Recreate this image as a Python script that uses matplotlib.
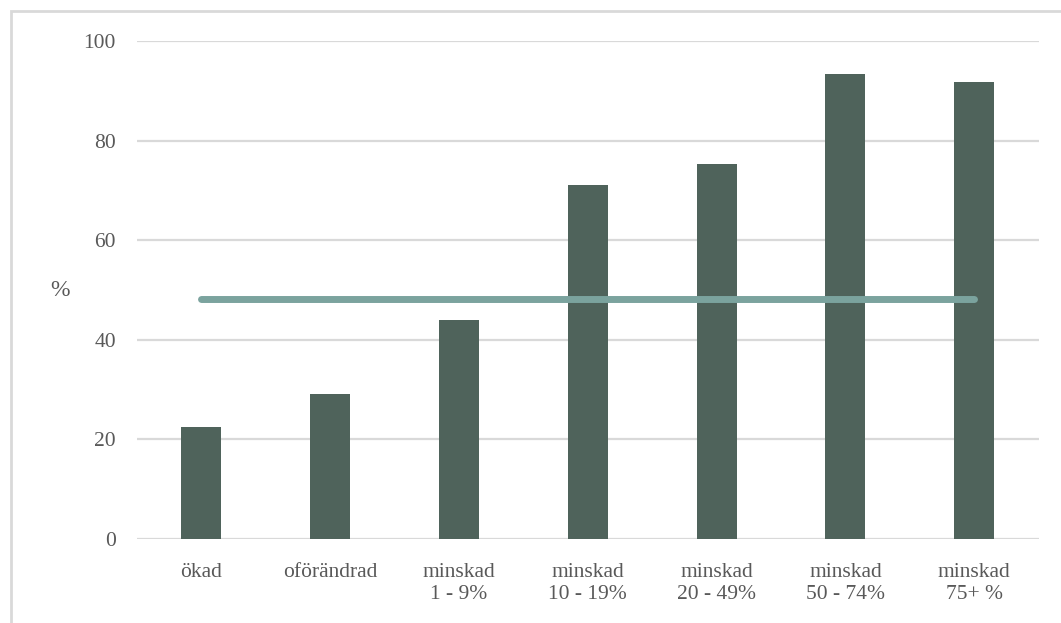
import matplotlib
matplotlib.use('Agg')
import matplotlib.pyplot as plt
from matplotlib.patches import Rectangle

# data
categories = ["ökad", "oförändrad", "minskad\n1 - 9%", "minskad\n10 - 19%",
              "minskad\n20 - 49%", "minskad\n50 - 74%", "minskad\n75+ %"]
values = [22.5, 29.1, 44.0, 71.1, 75.3, 93.4, 91.8]
average = 48.2
yticks = [0, 20, 40, 60, 80, 100]

bar_color = "#4f635b"
line_color = "#7ba39e"
text_color = "#595959"
grid_color = "#d9d9d9"

plt.rcParams['font.family'] = ['Liberation Serif', 'DejaVu Serif']

fig = plt.figure(figsize=(10.61, 6.23), dpi=100)
ax = fig.add_axes([0.129, 0.1348, 0.850, 0.7994])

x = list(range(len(categories)))
ax.bar(x, values, width=0.31, color=bar_color, zorder=3)
ax.plot([x[0], x[-1]], [average, average], color=line_color, linewidth=5,
        solid_capstyle='round', zorder=4)

ax.set_xlim(-0.5, len(categories) - 0.5)
ax.set_ylim(0, 100)
ax.set_yticks(yticks)
ax.set_xticks(x)
ax.set_xticklabels(categories, fontsize=15.5, color=text_color, linespacing=1.25)
ax.tick_params(axis='y', labelsize=15.5, labelcolor=text_color, length=0, pad=15)
ax.tick_params(axis='x', length=0, pad=17)
ax.grid(axis='y', color=grid_color, linewidth=1.6, zorder=0)
for s in ax.spines.values():
    s.set_visible(False)

fig.text(60 / 1061, 1 - 290 / 623, "%", fontsize=17, color=text_color,
         ha='center', va='center')

# outer chart frame (cropped at right and bottom)
fig.patches.append(Rectangle((11 / 1061, -0.1), 1.2, 1 - 11 / 623 + 0.1,
                             transform=fig.transFigure, fill=False,
                             edgecolor=grid_color, linewidth=2))

fig.savefig("out.png", dpi=100)
